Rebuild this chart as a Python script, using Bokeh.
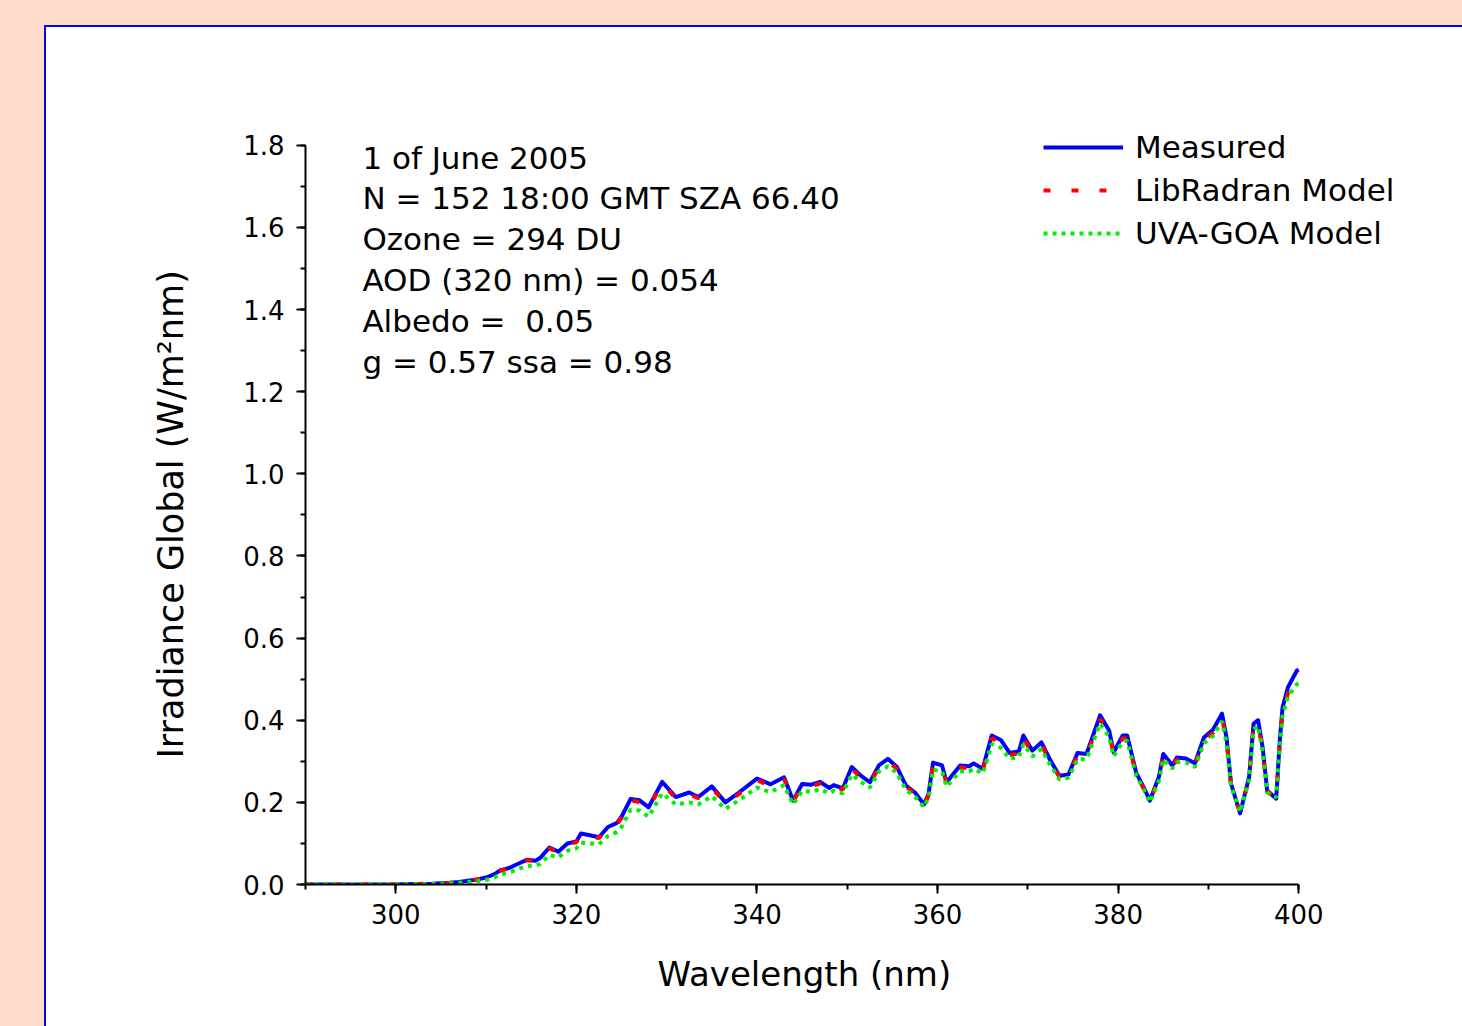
from bokeh.plotting import figure
from bokeh.models import (Range1d, SingleIntervalTicker, Legend, LegendItem,
                          Label, ColumnDataSource, Column, CustomJSTickFormatter, Title)
from bokeh.embed import file_html
from bokeh.resources import INLINE

FONT = "DejaVu Sans"

wavelength = [290, 295, 300, 302, 304, 306, 307, 308, 309, 310, 311, 311.5, 312.5, 313.5, 314.5,
              315.5, 316, 317, 318, 319, 320, 320.5, 321.5, 322.5, 323.5, 324.5, 325, 326, 327, 328,
              329.5, 331, 332.5, 333.5, 335, 336.5, 338, 340, 341.5, 343, 344, 345, 346, 347, 348,
              348.5, 349.5, 350.5, 351.5, 352.5, 353.5, 354.5, 355.5, 356.5, 357.5, 358.5, 359, 359.5,
              360.5, 361, 362.5, 363.5, 364, 365, 366, 367, 368, 369, 369.5, 370.5, 371.5, 372.5,
              373.5, 374.5, 375.5, 376.5, 378, 379, 379.5, 380.5, 381, 382, 383, 383.5, 384.5, 385,
              386, 386.5, 387.5, 388.5, 389.5, 390.5, 391.5, 392, 392.5, 393.5, 394.5, 395, 395.5,
              396, 396.5, 397.5, 397.9, 398.2, 398.8, 399.8, 400]

measured = [0.000, 0.000, 0.000, 0.001, 0.002,
            0.004, 0.006, 0.009, 0.012, 0.017,
            0.026, 0.034, 0.040, 0.050, 0.060,
            0.058, 0.065, 0.090, 0.080, 0.100,
            0.105, 0.124, 0.120, 0.115, 0.140,
            0.150, 0.165, 0.208, 0.205, 0.188,
            0.250, 0.213, 0.224, 0.213, 0.239,
            0.200, 0.224, 0.258, 0.244, 0.261,
            0.204, 0.245, 0.243, 0.250, 0.235,
            0.242, 0.234, 0.286, 0.265, 0.249,
            0.290, 0.306, 0.286, 0.241, 0.224,
            0.195, 0.220, 0.297, 0.290, 0.249,
            0.290, 0.288, 0.295, 0.282, 0.363,
            0.352, 0.320, 0.324, 0.363, 0.326,
            0.346, 0.302, 0.265, 0.268, 0.320,
            0.318, 0.412, 0.375, 0.322, 0.363,
            0.363, 0.272, 0.229, 0.204, 0.261,
            0.318, 0.290, 0.309, 0.307, 0.295,
            0.358, 0.377, 0.416, 0.358, 0.246,
            0.173, 0.261, 0.392, 0.400, 0.334,
            0.229, 0.209, 0.350, 0.430, 0.480,
            0.521, 0.523]

libradran = [0.000, 0.000, 0.000, 0.001, 0.002,
             0.004, 0.006, 0.009, 0.012, 0.016,
             0.025, 0.033, 0.039, 0.049, 0.059,
             0.057, 0.064, 0.088, 0.079, 0.098,
             0.103, 0.121, 0.117, 0.113, 0.137,
             0.147, 0.162, 0.205, 0.201, 0.186,
             0.246, 0.210, 0.220, 0.210, 0.235,
             0.198, 0.220, 0.254, 0.240, 0.257,
             0.202, 0.241, 0.239, 0.246, 0.232,
             0.238, 0.231, 0.281, 0.261, 0.246,
             0.285, 0.300, 0.281, 0.238, 0.221,
             0.193, 0.217, 0.291, 0.285, 0.246,
             0.285, 0.283, 0.290, 0.278, 0.356,
             0.345, 0.315, 0.319, 0.356, 0.321,
             0.340, 0.298, 0.262, 0.265, 0.314,
             0.313, 0.403, 0.368, 0.317, 0.356,
             0.356, 0.268, 0.226, 0.202, 0.257,
             0.312, 0.286, 0.304, 0.302, 0.291,
             0.351, 0.369, 0.406, 0.351, 0.242,
             0.175, 0.257, 0.383, 0.391, 0.328,
             0.226, 0.212, 0.343, 0.418, 0.465,
             0.492, 0.494]

uvagoa = [0.000, 0.000, 0.000, 0.001, 0.001,
          0.003, 0.004, 0.006, 0.008, 0.011,
          0.018, 0.024, 0.029, 0.037, 0.045,
          0.046, 0.050, 0.072, 0.066, 0.082,
          0.088, 0.102, 0.100, 0.098, 0.118,
          0.128, 0.140, 0.182, 0.180, 0.165,
          0.222, 0.195, 0.200, 0.195, 0.215,
          0.184, 0.205, 0.236, 0.225, 0.242,
          0.195, 0.228, 0.226, 0.232, 0.222,
          0.228, 0.222, 0.268, 0.250, 0.236,
          0.275, 0.288, 0.272, 0.230, 0.214,
          0.188, 0.212, 0.280, 0.275, 0.238,
          0.276, 0.275, 0.282, 0.270, 0.342,
          0.333, 0.306, 0.310, 0.342, 0.312,
          0.330, 0.290, 0.256, 0.260, 0.305,
          0.305, 0.392, 0.360, 0.312, 0.348,
          0.350, 0.265, 0.224, 0.200, 0.252,
          0.305, 0.282, 0.298, 0.297, 0.286,
          0.344, 0.362, 0.398, 0.345, 0.240,
          0.176, 0.254, 0.378, 0.386, 0.323,
          0.224, 0.212, 0.336, 0.410, 0.458,
          0.488, 0.490]

series_names = ["Measured", "LibRadran Model", "UVA-GOA Model"]

info_lines = ["1 of June 2005",
              "N = 152 18:00 GMT SZA 66.40",
              "Ozone = 294 DU",
              "AOD (320 nm) = 0.054",
              "Albedo = \u00a00.05",
              "g = 0.57 ssa = 0.98"]

x_title = "Wavelength (nm)"
y_title = "Irradiance Global (W/m\u00b2nm)"

PAGE_W, PAGE_H = 1462, 1026
OFF_X, OFF_Y = 46, 27          # figure position inside the page (panel border included)
W, H = PAGE_W - OFF_X, PAGE_H - OFF_Y

# frame extends to the right / top so that legend and notes are not clipped;
# axes are bounded to the real data window
p = figure(width=W, height=H, output_backend="svg", toolbar_location=None,
           x_range=Range1d(290, 415.7), y_range=Range1d(0, 1.897),
           min_border_left=305 - OFF_X, min_border_right=PAGE_W - 1440,
           min_border_top=105 - OFF_Y, min_border_bottom=PAGE_H - 884,
           margin=(2, 0, 0, 2), styles={"background-color": "white"})
p.border_fill_color = "white"
p.background_fill_color = "white"
p.outline_line_color = None
p.grid.visible = False

src = ColumnDataSource(dict(x=wavelength, m=measured, l=libradran, u=uvagoa))
r1 = p.line("x", "m", source=src, line_color="#0000FF", line_width=4, line_join="round")
r2 = p.line("x", "l", source=src, line_color="#FF0000", line_width=4, line_dash="7 21")
r3 = p.line("x", "u", source=src, line_color="#00F000", line_width=4, line_dash="4 5")

p.xaxis.ticker = SingleIntervalTicker(interval=20, num_minor_ticks=2)
p.yaxis.ticker = SingleIntervalTicker(interval=0.2, num_minor_ticks=2)
p.xaxis.bounds = (290, 400)
p.yaxis.bounds = (0, 1.8)
for ax in (p.xaxis[0], p.yaxis[0]):
    ax.axis_line_width = 2
    ax.axis_line_color = "black"
    ax.major_tick_line_width = 2
    ax.minor_tick_line_width = 2
    ax.major_tick_out = 9
    ax.major_tick_in = 0
    ax.minor_tick_out = 5
    ax.minor_tick_in = 0
    ax.major_label_text_font = FONT
    ax.major_label_text_font_size = "26px"
    ax.major_label_text_color = "black"
p.xaxis.major_label_standoff = 10
p.yaxis.major_label_standoff = 12
p.yaxis.formatter = CustomJSTickFormatter(code="return tick.toFixed(1);")

# axis titles as side-panel titles, so that they can be placed under the data window
xt = Title(text=x_title, align="left", offset=352, standoff=50,
           text_font=FONT, text_font_size="34px", text_font_style="normal",
           text_color="black")
p.add_layout(xt, "below")
yt = Title(text=y_title, align="left", offset=126, standoff=100,
           text_font=FONT, text_font_size="35px", text_font_style="normal",
           text_color="black")
p.add_layout(yt, "left")

for i, t in enumerate(info_lines):
    p.add_layout(Label(x=296.3, y=1.770 - i * 0.0994, text=t,
                       text_font=FONT, text_font_size="31px",
                       text_baseline="middle", text_align="left",
                       text_color="black"))

legend = Legend(items=[LegendItem(label=series_names[0], renderers=[r1]),
                       LegendItem(label=series_names[1], renderers=[r2]),
                       LegendItem(label=series_names[2], renderers=[r3])],
                location=(738, 633))
legend.label_text_font = FONT
legend.label_text_font_size = "31px"
legend.label_text_color = "black"
legend.glyph_width = 80
legend.glyph_height = 30
legend.label_height = 30
legend.spacing = 7
legend.padding = 5
legend.margin = 0
legend.label_standoff = 12
legend.border_line_color = None
legend.background_fill_alpha = 0
p.add_layout(legend, "center")

panel = Column(children=[p], margin=(25, 0, 0, 44),
               styles={"background-color": "#0000FF"})
page = Column(children=[panel], styles={"background-color": "#FFDDCA"},
              width=PAGE_W, height=PAGE_H)

open("out.html", "w").write(file_html(page, INLINE))
